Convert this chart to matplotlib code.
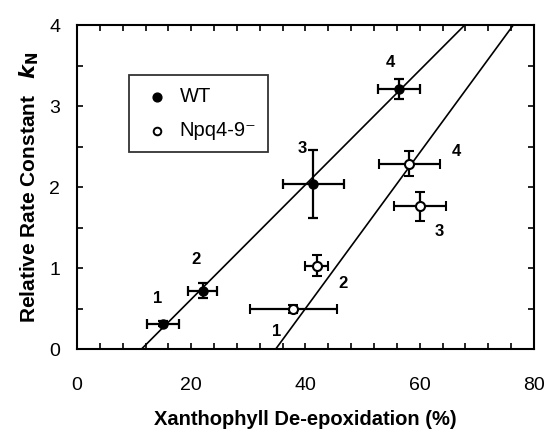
import matplotlib.pyplot as plt
import numpy as np

plt.rcParams['font.family'] = ['Liberation Sans', 'DejaVu Sans']

# WT data
wt_x = [15.0, 22.0, 41.4, 56.4]
wt_y = [0.31, 0.72, 2.04, 3.21]
wt_xerr = [2.8, 2.5, 5.4, 3.7]
wt_yerr = [0.03, 0.09, 0.42, 0.12]
wt_lab = ['1', '2', '3', '4']
wt_lab_x = [14.1, 20.9, 39.5, 54.8]
wt_lab_y = [0.62, 1.11, 2.47, 3.54]

# Npq4-9 data
npq_x = [37.9, 42.0, 60.1, 58.2]
npq_y = [0.49, 1.03, 1.76, 2.29]
npq_xerr = [7.6, 2.0, 4.6, 5.3]
npq_yerr = [0.05, 0.13, 0.18, 0.15]
npq_lab = ['1', '2', '3', '4']
npq_lab_x = [35.0, 46.5, 63.5, 66.5]
npq_lab_y = [0.22, 0.81, 1.45, 2.44]

# fitted lines (x where line hits y=0 and y=4)
wt_fit_x = [11.3, 67.9]
npq_fit_x = [34.8, 76.4]
fit_y = [0, 4]

fig = plt.figure(figsize=(5.47, 4.32), dpi=100)
ax = fig.add_axes([0.1408, 0.1921, 0.8352, 0.750])

ax.plot(wt_fit_x, fit_y, color='black', lw=1.2)
ax.plot(npq_fit_x, fit_y, color='black', lw=1.2)

ax.errorbar(wt_x, wt_y, xerr=wt_xerr, yerr=wt_yerr, fmt='o', color='black',
            mfc='black', ms=6.5, elinewidth=1.6, capsize=3.5, capthick=1.6, zorder=3)
ax.errorbar(npq_x, npq_y, xerr=npq_xerr, yerr=npq_yerr, fmt='o', color='black',
            mfc='white', mec='black', mew=1.5, ms=6.5, elinewidth=1.6, capsize=3.5,
            capthick=1.6, zorder=3)

for t, x, y in zip(wt_lab, wt_lab_x, wt_lab_y):
    ax.text(x, y, t, fontsize=12, fontweight='bold', ha='center', va='center')
for t, x, y in zip(npq_lab, npq_lab_x, npq_lab_y):
    ax.text(x, y, t, fontsize=12, fontweight='bold', ha='center', va='center')

ax.set_xlim(0, 80)
ax.set_ylim(0, 4)
ax.set_xticks([0, 20, 40, 60, 80])
ax.set_xticks(np.arange(0, 81, 4), minor=True)
ax.set_yticks([0, 1, 2, 3, 4])
ax.set_yticks(np.arange(0, 4.01, 0.5), minor=True)
ax.tick_params(which='both', direction='in', top=True, right=True, length=4, width=1.2)
ax.tick_params(axis='x', which='major', pad=20, labelsize=14)
ax.tick_params(axis='y', which='major', pad=12, labelsize=14)
for s in ax.spines.values():
    s.set_linewidth(1.5)

ax.set_xlabel('Xanthophyll De-epoxidation (%)', fontsize=14.5, fontweight='bold', labelpad=12)
ax.set_ylabel(r'Relative Rate Constant   $\boldsymbol{k}_\mathbf{N}$', fontsize=15,
              fontweight='bold', labelpad=6)

h1 = ax.scatter([], [], s=40, color='black')
h2 = ax.scatter([], [], s=30, facecolor='white', edgecolor='black', linewidth=1.4)
leg = ax.legend([h1, h2], ['WT', 'Npq4-9\u207b'], loc='upper left',
                bbox_to_anchor=(0.114, 0.846), borderaxespad=0, fontsize=14.5,
                frameon=True, fancybox=False, edgecolor='black', handletextpad=0.3,
                borderpad=0.6, labelspacing=0.75, handlelength=1.6)
leg.get_frame().set_linewidth(1.3)

fig.savefig('out.png', dpi=100)
